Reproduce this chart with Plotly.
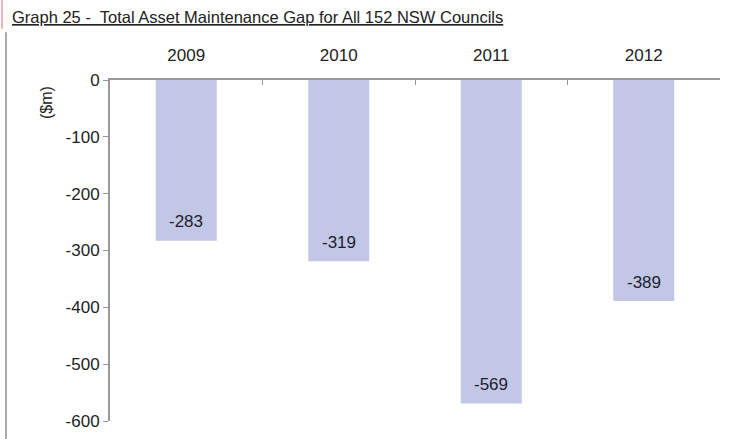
import plotly.graph_objects as go

years = ["2009", "2010", "2011", "2012"]
gap = [-283, -319, -569, -389]
yticks = [0, -100, -200, -300, -400, -500, -600]

FONT = "Liberation Sans, Arial, sans-serif"

fig = go.Figure()
fig.add_trace(go.Bar(x=years, y=gap, marker=dict(color="#c1c7e5", line=dict(width=0)),
                     width=0.4, showlegend=False))

# value labels sitting just inside the end of each bar (category axis -> index positions)
for i, v in enumerate(gap):
    fig.add_annotation(x=i, y=v, text=str(v), showarrow=False, yshift=19,
                       font=dict(size=17, color="#1c1c30", family=FONT))

fig.add_annotation(x=-0.103, y=0.933, xref="paper", yref="paper", text="($m)",
                   xanchor="center", yanchor="middle",
                   textangle=-90, showarrow=False, font=dict(size=16, color="#222", family=FONT))

fig.add_annotation(x=-0.1635, y=1.0, xref="paper", yref="paper", yanchor="bottom", yshift=52,
                   xanchor="left", showarrow=False,
                   text="<u>Graph 25 -  Total Asset Maintenance Gap for All 152 NSW Councils</u>",
                   font=dict(size=16.5, color="#222", family=FONT))

# page border lines at the left
fig.add_shape(type="line", xref="paper", yref="paper", x0=-0.1705, x1=-0.1705, y0=-0.06, y1=1.14,
              line=dict(color="#aaaaaa", width=2))
fig.add_shape(type="line", xref="paper", yref="paper", x0=-0.177, x1=-0.177, y0=1.15, y1=1.24,
              line=dict(color="#e8a0a8", width=1.5))

fig.update_layout(
    width=730, height=439,
    margin=dict(l=110, r=10, t=80, b=18),
    paper_bgcolor="white", plot_bgcolor="white",
    font=dict(family=FONT, size=17, color="#222"),
    bargap=0.6,
    xaxis=dict(type="category", side="top", showline=True, linecolor="#999", linewidth=2,
               ticks="inside", tickson="boundaries", ticklen=5, tickcolor="#999",
               ticklabelstandoff=10,
               showgrid=False, tickfont=dict(size=17), automargin=False),
    yaxis=dict(range=[-600, 0], tickvals=yticks, ticktext=[str(t) for t in yticks],
               showline=True, linecolor="#999", linewidth=2,
               ticks="outside", ticklen=5, tickcolor="#999", showgrid=False, zeroline=False,
               tickfont=dict(size=17), automargin=False),
)

# drop the default 8px body margin so the figure fills the window
fig.write_html("out.html", config={"displayModeBar": False},
               post_script="document.body.style.margin='0';")
